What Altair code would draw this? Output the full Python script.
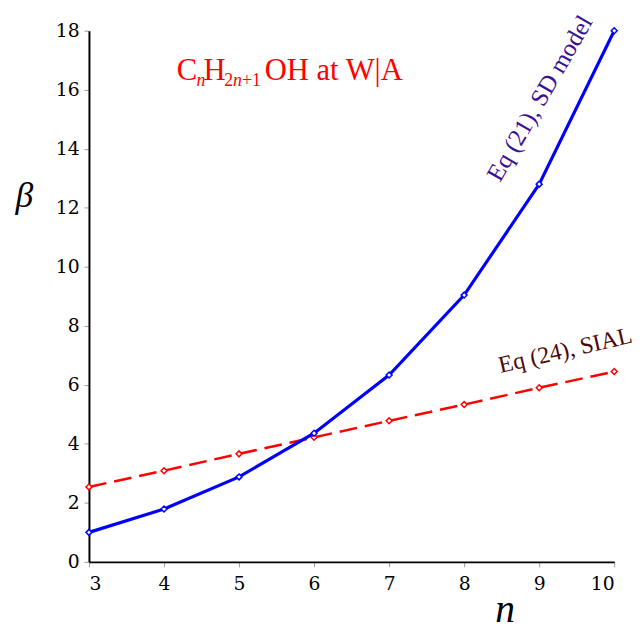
import altair as alt
import pandas as pd

# ---- data ----
n_vals = [3, 4, 5, 6, 7, 8, 9, 10]
beta_sd = [1.0, 1.79, 2.88, 4.36, 6.33, 9.04, 12.8, 18.0]
beta_sial = [2.54, 3.09, 3.66, 4.22, 4.78, 5.33, 5.9, 6.45]

x_ticks = [3, 4, 5, 6, 7, 8, 9, 10]
y_ticks = [0, 2, 4, 6, 8, 10, 12, 14, 16, 18]

# annotation texts (anchored in data coordinates)
sd_label = "Eq (21), SD model"
sial_label = "Eq (24), SIAL"
sd_label_pos = (9.1, 15.57)
sial_label_pos = (9.37, 6.92)

title_anchor = (4.17, 16.34)
title_main = [("C", 0), ("H", 27), ("OH at W|A", 89)]
title_sub_regular = [("2", 48), ("+1", 66)]
title_sub_italic = [("n", 20), ("n", 57)]

SERIF = "Liberation Serif"
TICKFONT = "DejaVu Serif"

df_sd = pd.DataFrame({"n": n_vals, "beta": beta_sd})
df_sial = pd.DataFrame({"n": n_vals, "beta": beta_sial})

axis_common = dict(
    grid=False,
    labelFont=TICKFONT,
    labelFontSize=19,
    labelColor="black",
    tickColor="#999999",
    tickSize=5,
    domainColor="black",
    domainWidth=2,
    titleFont=SERIF,
    titleFontStyle="italic",
    titleFontWeight="normal",
    titleColor="black",
    titleAlign="center",
    titleBaseline="alphabetic",
    format="d",
)

x_enc = alt.X(
    "n:Q",
    scale=alt.Scale(domain=[3, 10], nice=False, zero=False),
    axis=alt.Axis(
        values=x_ticks,
        labelPadding=8,
        title="n",
        titleFontSize=40,
        titleX=421,
        titleY=60,
        **axis_common,
    ),
)
y_enc = alt.Y(
    "beta:Q",
    scale=alt.Scale(domain=[0, 18], nice=False),
    axis=alt.Axis(
        values=y_ticks,
        labelPadding=5,
        title="β",
        titleFontSize=36,
        titleAngle=0,
        titleX=-66,
        titleY=178,
        **axis_common,
    ),
)

line_sd = alt.Chart(df_sd).mark_line(color="#0000ff", strokeWidth=3.2).encode(x=x_enc, y=y_enc)
pts_sd = alt.Chart(df_sd).mark_point(
    shape="diamond", filled=True, fill="white", size=36, strokeWidth=1.5, stroke="#0000ff", opacity=1
).encode(x="n:Q", y="beta:Q")

line_sial = alt.Chart(df_sial).mark_line(
    color="#ff0000", strokeWidth=2.5, strokeDash=[18, 8]
).encode(x="n:Q", y="beta:Q")
pts_sial = alt.Chart(df_sial).mark_point(
    shape="diamond", filled=True, fill="white", size=36, strokeWidth=1.5, stroke="#ff0000", opacity=1
).encode(x="n:Q", y="beta:Q")

lab_sd = alt.Chart(
    pd.DataFrame({"n": [sd_label_pos[0]], "beta": [sd_label_pos[1]], "t": [sd_label]})
).mark_text(
    font=SERIF, fontSize=25, angle=300, align="center", baseline="alphabetic", color="#3a1095"
).encode(x="n:Q", y="beta:Q", text="t:N")

lab_sial = alt.Chart(
    pd.DataFrame({"n": [sial_label_pos[0]], "beta": [sial_label_pos[1]], "t": [sial_label]})
).mark_text(
    font=SERIF, fontSize=24, angle=347, align="center", baseline="alphabetic", color="#4a0808"
).encode(x="n:Q", y="beta:Q", text="t:N")

title_layers = []
for txt, dx in title_main:
    title_layers.append(
        alt.Chart(pd.DataFrame({"n": [title_anchor[0]], "beta": [title_anchor[1]], "t": [txt]}))
        .mark_text(font=SERIF, fontSize=31, align="left", baseline="alphabetic", color="#ff0000", dx=dx)
        .encode(x="n:Q", y="beta:Q", text="t:N")
    )
for txt, dx in title_sub_regular:
    title_layers.append(
        alt.Chart(pd.DataFrame({"n": [title_anchor[0]], "beta": [title_anchor[1]], "t": [txt]}))
        .mark_text(font=SERIF, fontSize=18, align="left", baseline="alphabetic", color="#ff0000", dx=dx, dy=6)
        .encode(x="n:Q", y="beta:Q", text="t:N")
    )
for txt, dx in title_sub_italic:
    title_layers.append(
        alt.Chart(pd.DataFrame({"n": [title_anchor[0]], "beta": [title_anchor[1]], "t": [txt]}))
        .mark_text(font=SERIF, fontSize=18, fontStyle="italic", align="left", baseline="alphabetic",
                   color="#ff0000", dx=dx, dy=6)
        .encode(x="n:Q", y="beta:Q", text="t:N")
    )

chart = alt.layer(
    line_sial, pts_sial, line_sd, pts_sd, lab_sd, lab_sial, *title_layers
).properties(
    width=532,
    height=538,
    autosize=alt.AutoSizeParams(type="none"),
    padding={"left": 82, "top": 19, "right": 18, "bottom": 64},
).configure_view(stroke=None)

chart.save("out.html", embed_options={"renderer": "svg", "actions": False})
